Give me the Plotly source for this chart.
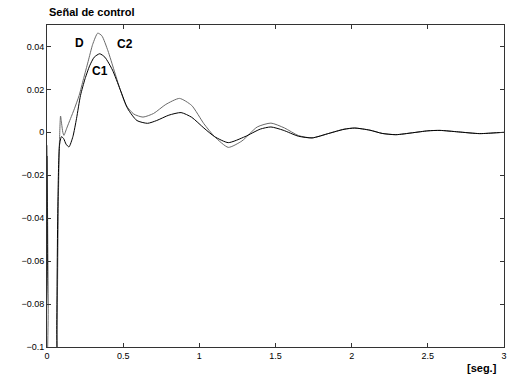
import plotly.graph_objects as go

# Curve with larger peak (D / C2) - gray
t_a = [0.000, 0.008, 0.012, 0.060, 0.066, 0.075, 0.082, 0.089, 0.096, 0.104, 0.111,
       0.130, 0.155, 0.180, 0.211, 0.240, 0.270, 0.300, 0.333, 0.360, 0.400, 0.440,
       0.480, 0.520, 0.570, 0.630, 0.700, 0.780, 0.870, 0.950, 1.030, 1.100, 1.190,
       1.280, 1.380, 1.470, 1.560, 1.650, 1.740, 1.850, 1.950, 2.020, 2.120, 2.200,
       2.290, 2.400, 2.500, 2.580, 2.700, 2.840, 2.950, 3.000]
v_a = [-0.006, -0.080, -0.200, -0.200, -0.100, -0.030, -0.004, 0.0076, 0.004, 0.000, -0.0014,
       0.002, 0.0065, 0.011, 0.0172, 0.025, 0.033, 0.041, 0.0462, 0.045, 0.038, 0.029,
       0.020, 0.0125, 0.0085, 0.0071, 0.0088, 0.013, 0.0158, 0.0125, 0.004, -0.002, -0.0070,
       -0.004, 0.0025, 0.0043, 0.002, -0.0015, -0.0026, -0.0005, 0.0015, 0.0020, 0.0010, -0.0005,
       -0.0011, -0.0002, 0.0007, 0.0009, 0.0002, -0.0006, -0.0002, 0.0000]

# Curve with smaller peak (C1) - black
t_b = [0.000, 0.002, 0.004, 0.058, 0.064, 0.072, 0.082, 0.095, 0.110, 0.125, 0.144,
       0.170, 0.194, 0.220, 0.250, 0.280, 0.310, 0.346, 0.380, 0.430, 0.480, 0.530,
       0.590, 0.660, 0.720, 0.800, 0.880, 0.950, 1.030, 1.100, 1.190, 1.300, 1.400,
       1.470, 1.550, 1.650, 1.740, 1.850, 1.950, 2.020, 2.120, 2.200, 2.290, 2.400,
       2.500, 2.580, 2.700, 2.840, 2.950, 3.000]
v_b = [-0.011, -0.060, -0.200, -0.200, -0.090, -0.030, -0.006, -0.002, -0.003, -0.0055, -0.0068,
       -0.002, 0.0065, 0.0172, 0.025, 0.031, 0.035, 0.0366, 0.035, 0.029, 0.020, 0.011,
       0.0055, 0.0042, 0.0055, 0.0080, 0.0092, 0.0070, 0.0020, -0.0020, -0.0048, -0.0020, 0.0015,
       0.0025, 0.0010, -0.0018, -0.0026, -0.0005, 0.0014, 0.0020, 0.0010, -0.0005, -0.0011, -0.0002,
       0.0007, 0.0009, 0.0002, -0.0006, -0.0002, 0.0000]

x_tickvals = [0, 0.5, 1, 1.5, 2, 2.5, 3]
x_ticktext = ["0", "0.5", "1", "1.5", "2", "2.5", "3"]
y_tickvals = [-0.1, -0.08, -0.06, -0.04, -0.02, 0, 0.02, 0.04]
y_ticktext = ["\u22120.1", "\u22120.08", "\u22120.06", "\u22120.04", "\u22120.02", "0", "0.02", "0.04"]

labels = ["D", "C2", "C1"]
label_t = [0.215, 0.51, 0.346]
label_v = [0.0415, 0.041, 0.0288]

fig = go.Figure()
fig.add_trace(go.Scatter(x=t_a, y=v_a, mode="lines",
                         line=dict(color="#6a6a6a", width=1, shape="spline", smoothing=0.6),
                         showlegend=False))
fig.add_trace(go.Scatter(x=t_b, y=v_b, mode="lines",
                         line=dict(color="#000000", width=1, shape="spline", smoothing=0.6),
                         showlegend=False))

for txt, tx, ty in zip(labels, label_t, label_v):
    fig.add_annotation(x=tx, y=ty, text="<b>%s</b>" % txt, showarrow=False,
                       font=dict(family="Liberation Sans, Arial", size=12, color="black"))

fig.add_annotation(xref="paper", yref="paper", x=0.0, y=1.0, yshift=5,
                   xanchor="left", yanchor="bottom", showarrow=False,
                   text="<b>Señal de control</b>",
                   font=dict(family="Liberation Sans, Arial", size=11, color="black"))
fig.add_annotation(xref="paper", yref="paper", x=0.99, y=0, yshift=-13,
                   xanchor="right", yanchor="top", showarrow=False,
                   text="<b>[seg.]</b>",
                   font=dict(family="Liberation Sans, Arial", size=11, color="black"))

axis_common = dict(showgrid=False, zeroline=False, showline=True, linecolor="#333333",
                   linewidth=1, mirror="ticks", ticks="inside", ticklen=4,
                   tickcolor="#333333",
                   tickfont=dict(family="Liberation Sans, Arial", size=9, color="black"))
fig.update_xaxes(range=[0, 3], tickvals=x_tickvals, ticktext=x_ticktext, **axis_common)
fig.update_yaxes(range=[-0.1, 0.05], tickvals=y_tickvals, ticktext=y_ticktext, **axis_common)

fig.update_layout(width=510, height=375, margin=dict(l=47, r=3, t=25, b=28),
                  paper_bgcolor="white", plot_bgcolor="white")

fig.write_html("out.html")
